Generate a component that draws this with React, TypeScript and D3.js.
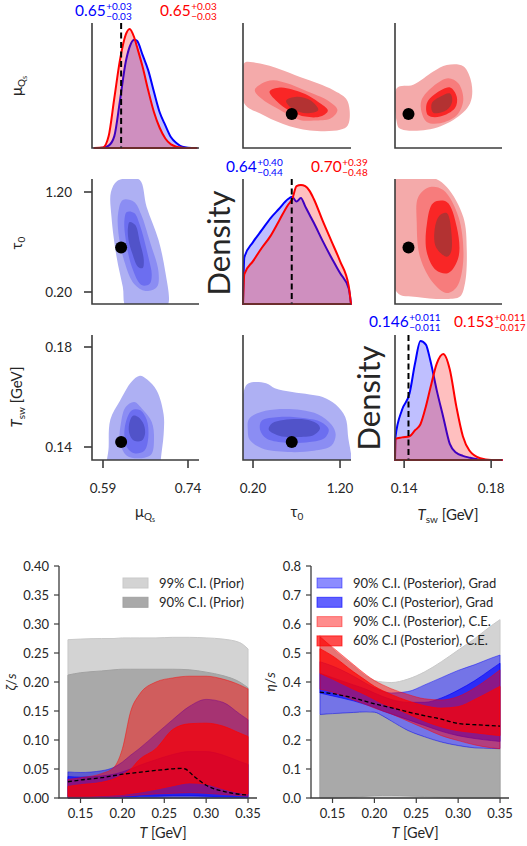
import React, { useLayoutEffect, useRef, useState } from "react";
import * as d3 from "d3";

const FONT = "Lato, 'Open Sans', 'DejaVu Sans', sans-serif";
const INK = "#262626";
const SPINE = "#3c3c3c";

type Pt = [number, number];

// ---------------- truth values ----------------
const muTrue = 0.622;
const tauTrue = 0.645;
const tswTrue = 0.142;

// ---------------- 1D marginals (relative density) ----------------
const muGrid = [0.575, 0.59, 0.6, 0.61, 0.62, 0.63, 0.637, 0.645, 0.65, 0.66, 0.67, 0.68, 0.69, 0.7, 0.71, 0.72, 0.73, 0.74, 0.755];
const muDensGrad = [0, 0.003, 0.02, 0.1, 0.4, 0.72, 0.85, 0.91, 0.9, 0.78, 0.65, 0.47, 0.3, 0.19, 0.09, 0.04, 0.01, 0.002, 0];
const muDensCE = [0, 0.005, 0.1, 0.42, 0.74, 0.95, 1.0, 0.93, 0.85, 0.68, 0.48, 0.3, 0.17, 0.08, 0.03, 0.01, 0.003, 0, 0];

const tauGrid = [0.085, 0.1, 0.2, 0.3, 0.4, 0.5, 0.6, 0.65, 0.7, 0.75, 0.8, 0.85, 0.9, 1.0, 1.1, 1.2, 1.3, 1.326];
const tauDensGrad = [0, 0.39, 0.52, 0.62, 0.72, 0.8, 0.88, 0.9, 0.86, 0.89, 0.82, 0.75, 0.68, 0.53, 0.39, 0.26, 0.13, 0];
const tauDensCE = [0, 0.25, 0.36, 0.47, 0.57, 0.7, 0.83, 0.88, 0.99, 1.0, 0.99, 0.95, 0.88, 0.7, 0.53, 0.36, 0.15, 0];

const tswGrid = [0.1358, 0.136, 0.139, 0.1425, 0.145, 0.1475, 0.15, 0.152, 0.155, 0.158, 0.161, 0.164, 0.167, 0.17, 0.175, 0.18, 0.185];
const tswDensGrad = [0, 0.19, 0.42, 0.56, 0.81, 1.0, 0.97, 0.84, 0.585, 0.36, 0.135, 0.06, 0.035, 0.02, 0.003, 0, 0];
const tswDensCE = [0, 0.177, 0.19, 0.2, 0.25, 0.3, 0.45, 0.6, 0.81, 0.89, 0.76, 0.45, 0.2, 0.08, 0.015, 0, 0];

// ---------------- 2D credible contours (outer -> inner), data units ----------------
const muTauGrad: Pt[][] = [
  [[0.615, 1.31], [0.635, 1.335], [0.655, 1.32], [0.667, 1.05], [0.688, 0.72], [0.7, 0.4], [0.706, 0.1], [0.7, 0.04], [0.632, 0.04], [0.625, 0.25], [0.614, 0.55], [0.605, 0.95], [0.604, 1.2]],
  [[0.625, 1.12], [0.645, 1.1], [0.657, 0.98], [0.673, 0.7], [0.688, 0.4], [0.685, 0.25], [0.665, 0.21], [0.645, 0.28], [0.628, 0.5], [0.617, 0.8], [0.617, 1.0]],
  [[0.632, 1.0], [0.645, 0.99], [0.655, 0.87], [0.67, 0.55], [0.676, 0.37], [0.672, 0.28], [0.658, 0.27], [0.641, 0.45], [0.629, 0.77], [0.628, 0.93]],
  [[0.637, 0.9], [0.647, 0.87], [0.655, 0.7], [0.662, 0.52], [0.66, 0.44], [0.652, 0.45], [0.642, 0.58], [0.635, 0.72], [0.634, 0.84]],
];
const muTswGrad: Pt[][] = [
  [[0.64, 0.166], [0.655, 0.1685], [0.668, 0.167], [0.685, 0.1625], [0.697, 0.153], [0.697, 0.145], [0.692, 0.135], [0.69, 0.128], [0.6, 0.128], [0.6, 0.14], [0.603, 0.151], [0.62, 0.1585]],
  [[0.63, 0.156], [0.645, 0.158], [0.66, 0.155], [0.676, 0.15], [0.68, 0.143], [0.675, 0.137], [0.655, 0.1355], [0.632, 0.1365], [0.62, 0.142], [0.622, 0.15]],
  [[0.64, 0.1545], [0.655, 0.1548], [0.667, 0.151], [0.67, 0.144], [0.663, 0.1385], [0.645, 0.1375], [0.632, 0.14], [0.628, 0.147]],
  [[0.643, 0.1525], [0.652, 0.152], [0.662, 0.149], [0.664, 0.145], [0.658, 0.1425], [0.645, 0.1425], [0.637, 0.145], [0.636, 0.149]],
];
const tauTswGrad: Pt[][] = [
  [[0.1, 0.163], [0.15, 0.1655], [0.35, 0.1655], [0.45, 0.1635], [0.65, 0.162], [0.85, 0.161], [1.0, 0.16], [1.15, 0.157], [1.26, 0.152], [1.29, 0.145], [1.29, 0.128], [0.1, 0.128]],
  [[0.15, 0.151], [0.25, 0.1535], [0.45, 0.155], [0.75, 0.1548], [0.95, 0.153], [1.1, 0.149], [1.15, 0.145], [1.1, 0.1405], [0.9, 0.1385], [0.6, 0.138], [0.3, 0.1395], [0.16, 0.143], [0.14, 0.147]],
  [[0.3, 0.1505], [0.5, 0.152], [0.8, 0.1515], [0.98, 0.15], [1.07, 0.147], [1.02, 0.1435], [0.85, 0.142], [0.55, 0.1418], [0.35, 0.1435], [0.28, 0.147]],
  [[0.42, 0.1495], [0.55, 0.1508], [0.8, 0.151], [0.93, 0.1495], [0.97, 0.1475], [0.9, 0.1448], [0.7, 0.144], [0.5, 0.1445], [0.38, 0.147]],
];
const tauMuCE: Pt[][] = [
  [[0.1, 0.699], [0.2, 0.7], [0.354, 0.696], [0.5, 0.69], [0.74, 0.678], [0.95, 0.668], [1.125, 0.658], [1.27, 0.645], [1.31, 0.628], [1.29, 0.605], [1.2, 0.598], [0.855, 0.597], [0.546, 0.607], [0.277, 0.623], [0.1, 0.638]],
  [[0.22, 0.658], [0.3, 0.668], [0.43, 0.673], [0.6, 0.668], [0.74, 0.661], [0.9, 0.652], [1.05, 0.643], [1.17, 0.628], [1.09, 0.615], [0.9, 0.612], [0.74, 0.613], [0.47, 0.631], [0.3, 0.645]],
  [[0.39, 0.656], [0.51, 0.662], [0.65, 0.659], [0.8, 0.652], [0.95, 0.64], [1.06, 0.627], [0.97, 0.618], [0.8, 0.618], [0.65, 0.625], [0.5, 0.638]],
  [[0.58, 0.642], [0.7, 0.648], [0.855, 0.643], [0.95, 0.628], [0.82, 0.623], [0.66, 0.629]],
];
const tswMuCE: Pt[][] = [
  [[0.1366, 0.661], [0.1442, 0.666], [0.1534, 0.686], [0.1596, 0.696], [0.1672, 0.694], [0.171, 0.668], [0.1703, 0.638], [0.1626, 0.613], [0.1504, 0.598], [0.138, 0.6], [0.1366, 0.61]],
  [[0.148, 0.643], [0.1534, 0.664], [0.1603, 0.676], [0.165, 0.668], [0.1672, 0.643], [0.1642, 0.62], [0.1565, 0.608], [0.1504, 0.61], [0.148, 0.625]],
  [[0.1504, 0.638], [0.1542, 0.652], [0.1611, 0.662], [0.1642, 0.648], [0.1634, 0.631], [0.1565, 0.618], [0.151, 0.62]],
  [[0.1527, 0.638], [0.1565, 0.648], [0.1611, 0.653], [0.1621, 0.641], [0.1596, 0.628], [0.1534, 0.624]],
];
const tswTauCE: Pt[][] = [
  [[0.1366, 1.34], [0.1534, 1.34], [0.1596, 1.25], [0.1672, 0.95], [0.1688, 0.62], [0.168, 0.29], [0.1657, 0.155], [0.1596, 0.13], [0.1458, 0.15], [0.1366, 0.2]],
  [[0.1465, 1.15], [0.1519, 1.25], [0.158, 1.22], [0.165, 0.95], [0.1672, 0.52], [0.1642, 0.25], [0.1596, 0.19], [0.1534, 0.29], [0.1473, 0.55], [0.1458, 0.89]],
  [[0.1504, 0.87], [0.1534, 1.09], [0.1596, 1.1], [0.1642, 0.85], [0.165, 0.55], [0.1603, 0.39], [0.1546, 0.42], [0.1504, 0.6]],
  [[0.1542, 0.85], [0.1565, 0.97], [0.1596, 0.99], [0.1619, 0.75], [0.1614, 0.59], [0.1596, 0.553], [0.1546, 0.65]],
];

// ---------------- titles ----------------
const muTitles = [["0.65", "+0.03", "\u22120.03"], ["0.65", "+0.03", "\u22120.03"]];
const tauTitles = [["0.64", "+0.40", "\u22120.44"], ["0.70", "+0.39", "\u22120.48"]];
const tswTitles = [["0.146", "+0.011", "\u22120.011"], ["0.153", "+0.011", "\u22120.017"]];

// ---------------- bottom: viscosities ----------------
const T_GRID = [0.135, 0.15, 0.175, 0.19, 0.2, 0.21, 0.22, 0.24, 0.26, 0.28, 0.3, 0.32, 0.34, 0.35];
const ZEROS = [0, 0, 0, 0, 0, 0, 0, 0, 0, 0, 0, 0, 0, 0];

const zetaPrior99Hi = [0.273, 0.274, 0.275, 0.275, 0.276, 0.276, 0.276, 0.276, 0.277, 0.277, 0.276, 0.274, 0.268, 0.257];
const zetaPrior90Hi = [0.212, 0.216, 0.219, 0.221, 0.222, 0.222, 0.222, 0.222, 0.222, 0.221, 0.217, 0.211, 0.2, 0.19];
const zetaGrad90Hi = [0.045, 0.044, 0.047, 0.053, 0.062, 0.074, 0.085, 0.11, 0.135, 0.158, 0.17, 0.165, 0.145, 0.135];
const zetaGrad60Lo = [0, 0, 0.001, 0.001, 0.002, 0.002, 0.003, 0.003, 0.004, 0.004, 0.003, 0.002, 0.001, 0.001];
const zetaGrad60Hi = [0.037, 0.036, 0.038, 0.041, 0.045, 0.05, 0.056, 0.066, 0.075, 0.08, 0.08, 0.074, 0.063, 0.058];
const zetaCE90Lo = [0, 0, 0.001, 0.002, 0.003, 0.004, 0.005, 0.007, 0.008, 0.009, 0.008, 0.006, 0.004, 0.003];
const zetaCE90Hi = [0.032, 0.035, 0.042, 0.053, 0.085, 0.15, 0.178, 0.2, 0.207, 0.21, 0.21, 0.205, 0.195, 0.188];
const zetaCE60Lo = [0.003, 0.003, 0.004, 0.005, 0.006, 0.008, 0.01, 0.015, 0.021, 0.026, 0.024, 0.016, 0.009, 0.007];
const zetaCE60Hi = [0.02, 0.023, 0.027, 0.033, 0.04, 0.05, 0.066, 0.085, 0.118, 0.128, 0.129, 0.124, 0.112, 0.106];

const etaPrior99Hi = [0.56, 0.515, 0.455, 0.42, 0.405, 0.4, 0.398, 0.41, 0.435, 0.47, 0.51, 0.55, 0.595, 0.615];
const etaPrior90Lo = [0, 0, 0.003, 0.006, 0.008, 0.009, 0.009, 0.007, 0.005, 0.002, 0, 0, 0, 0];
const etaPrior90Hi = [0.287, 0.29, 0.294, 0.296, 0.295, 0.282, 0.265, 0.232, 0.21, 0.192, 0.18, 0.172, 0.17, 0.169];
const etaGrad90Lo = [0.288, 0.291, 0.295, 0.297, 0.296, 0.283, 0.266, 0.233, 0.211, 0.193, 0.181, 0.173, 0.171, 0.17];
const etaGrad90Hi = [0.47, 0.455, 0.42, 0.395, 0.38, 0.368, 0.362, 0.367, 0.39, 0.415, 0.44, 0.46, 0.483, 0.493];
const etaGrad60Lo = [0.362, 0.352, 0.335, 0.322, 0.312, 0.3, 0.29, 0.27, 0.25, 0.23, 0.215, 0.205, 0.198, 0.195];
const etaGrad60Hi = [0.43, 0.415, 0.39, 0.375, 0.362, 0.35, 0.34, 0.33, 0.33, 0.345, 0.372, 0.405, 0.445, 0.465];
const etaCE90Lo = [0.375, 0.365, 0.338, 0.322, 0.31, 0.3, 0.29, 0.265, 0.24, 0.215, 0.198, 0.183, 0.173, 0.17];
const etaCE90Hi = [0.555, 0.52, 0.46, 0.425, 0.405, 0.39, 0.377, 0.357, 0.342, 0.338, 0.35, 0.38, 0.42, 0.442];
const etaCE60Lo = [0.43, 0.41, 0.375, 0.355, 0.34, 0.325, 0.315, 0.29, 0.265, 0.245, 0.232, 0.225, 0.218, 0.215];
const etaCE60Hi = [0.515, 0.49, 0.435, 0.405, 0.385, 0.37, 0.357, 0.335, 0.318, 0.31, 0.315, 0.34, 0.37, 0.385];

const truthT = [0.135, 0.15, 0.175, 0.2, 0.225, 0.25, 0.27, 0.275, 0.285, 0.3, 0.325, 0.35];
const truthZeta = [0.028, 0.031, 0.035, 0.041, 0.045, 0.049, 0.051, 0.05, 0.038, 0.022, 0.01, 0.005];
const truthEta = [0.365, 0.36, 0.345, 0.325, 0.308, 0.29, 0.278, 0.275, 0.268, 0.257, 0.252, 0.248];

const zetaTicks = [0, 0.05, 0.1, 0.15, 0.2, 0.25, 0.3, 0.35, 0.4];
const etaTicks = [0, 0.1, 0.2, 0.3, 0.4, 0.5, 0.6, 0.7, 0.8];
const tTicks = [0.15, 0.2, 0.25, 0.3, 0.35];

const priorLegend = ["99% C.I. (Prior)", "90% C.I. (Prior)"];
const postLegend = [
  "90% C.I. (Posterior), Grad",
  "60% C.I (Posterior), Grad",
  "90% C.I. (Posterior), C.E.",
  "60% C.I (Posterior), C.E.",
];

// ---------------- styles ----------------
const BLUE_LEVELS = ["#aeb0f3", "#8b8df3", "#6c6ef0", "#5153c9"];
const RED_LEVELS = ["#f4aaaa", "#f77c7c", "#f92626", "#b33232"];
const C_P99 = "#d3d3d3";
const C_P90 = "#a9a9a9";
const C_G90 = "rgba(0,0,255,0.45)";
const C_G60 = "rgba(0,0,255,0.62)";
const C_R90 = "rgba(255,0,0,0.45)";
const C_R60 = "rgba(255,0,0,0.7)";

// ---------------- layout ----------------
const COLS: [number, number][] = [[92, 199], [243, 351], [395, 502]];
const ROWS: [number, number][] = [[148, 23], [304, 179], [460, 335]];
const XDOM: [number, number][] = [[0.5706, 0.7594], [0.085, 1.326], [0.1358, 0.185]];
const YDOM: [number, number][] = [[0.5706, 0.7594], [0.08, 1.33], [0.1348, 0.1848]];
const xs = (c: number) => d3.scaleLinear().domain(XDOM[c]).range(COLS[c]);
const ys = (r: number) => d3.scaleLinear().domain(YDOM[r]).range(ROWS[r]);

// value with stacked super/subscript, as one text element
function ValTitle({ x, y, parts, color }: { x: number; y: number; parts: string[]; color: string }) {
  const supRef = useRef<SVGTSpanElement>(null);
  const [sw, setSw] = useState(parts[1].length * 5.6);
  useLayoutEffect(() => {
    if (supRef.current) setSw(supRef.current.getComputedTextLength());
  }, [parts[1]]);
  return (
    <text x={x} y={y} fill={color} fontFamily={FONT} fontSize={15.5}>
      {parts[0]}
      <tspan ref={supRef} dx={0.5} dy={-6.5} fontSize={10}>{parts[1]}</tspan>
      <tspan dx={-sw} dy={10.3} fontSize={10}>{parts[2]}</tspan>
    </text>
  );
}

function Spines({ r, c }: { r: number; c: number }) {
  const [x0, x1] = COLS[c];
  const [yb, yt] = ROWS[r];
  return <path d={`M${x0},${yt}V${yb}H${x1}`} fill="none" stroke={SPINE} strokeWidth={1.6} />;
}

function Diag({ k, grid, blue, red, truth, parts }: { k: number; grid: number[]; blue: number[]; red: number[]; truth: number; parts: string[][] }) {
  const x = xs(k);
  const [yb, yt] = ROWS[k];
  const y = d3.scaleLinear().domain([0, 1.05]).range([yb, yt]);
  const area = d3
    .area<number>()
    .x((_, i) => x(grid[i]))
    .y0(yb)
    .y1((d) => y(d))
    .curve(d3.curveMonotoneX);
  const pos = [
    [[75, 16], [160, 16]],
    [[226, 172], [311, 172]],
    [[369, 327], [454, 327]],
  ][k];
  return (
    <g>
      <path d={area(blue) || ""} fill="rgba(0,0,255,0.25)" stroke="#0000ff" strokeWidth={2} strokeLinejoin="round" />
      <path d={area(red) || ""} fill="rgba(255,0,0,0.25)" stroke="#ff0000" strokeWidth={2} strokeLinejoin="round" />
      <line x1={x(truth)} x2={x(truth)} y1={yt} y2={yb} stroke="#000" strokeWidth={2} strokeDasharray="6,3.5" />
      <Spines r={k} c={k} />
      <ValTitle x={pos[0][0]} y={pos[0][1]} parts={parts[0]} color="#0000ff" />
      <ValTitle x={pos[1][0]} y={pos[1][1]} parts={parts[1]} color="#ff0000" />
    </g>
  );
}

function Contours({ r, c, levels, colors, truth }: { r: number; c: number; levels: Pt[][]; colors: string[]; truth: Pt }) {
  const x = xs(c);
  const y = ys(r);
  const line = d3
    .line<Pt>()
    .x((p) => x(p[0]))
    .y((p) => y(p[1]))
    .curve(d3.curveCatmullRomClosed.alpha(0.5));
  const id = `clip-${r}-${c}`;
  return (
    <g>
      <defs>
        <clipPath id={id}>
          <rect x={COLS[c][0]} y={ROWS[r][1]} width={COLS[c][1] - COLS[c][0]} height={ROWS[r][0] - ROWS[r][1]} />
        </clipPath>
      </defs>
      <g clipPath={`url(#${id})`}>
        {levels.map((poly, i) => (
          <path key={i} d={line(poly) || ""} fill={colors[i]} />
        ))}
      </g>
      <circle cx={x(truth[0])} cy={y(truth[1])} r={6} fill="#000" />
      <Spines r={r} c={c} />
    </g>
  );
}

function LeftTicks({ r, ticks, fmt }: { r: number; ticks: number[]; fmt: (v: number) => string }) {
  const y = ys(r);
  const x0 = COLS[0][0];
  return (
    <g>
      {ticks.map((t) => (
        <g key={t}>
          <line x1={x0 - 8} x2={x0} y1={y(t)} y2={y(t)} stroke={SPINE} strokeWidth={1.6} />
          <text x={x0 - 20} y={y(t)} dy="0.35em" textAnchor="end" fontSize={13.5} fill={INK} fontFamily={FONT}>{fmt(t)}</text>
        </g>
      ))}
    </g>
  );
}

function BottomTicks({ c, ticks, fmt }: { c: number; ticks: number[]; fmt: (v: number) => string }) {
  const x = xs(c);
  const yb = ROWS[2][0];
  return (
    <g>
      {ticks.map((t) => (
        <g key={t}>
          <line x1={x(t)} x2={x(t)} y1={yb} y2={yb + 8} stroke={SPINE} strokeWidth={1.6} />
          <text x={x(t)} y={yb + 33} textAnchor="middle" fontSize={13.5} fill={INK} fontFamily={FONT}>{fmt(t)}</text>
        </g>
      ))}
    </g>
  );
}

type Band = { lo: number[]; hi: number[]; color: string; edge: string };

function BandPlot({ x0, x1, ymax, yTicks, bands, truth, ylabel, ylabelX, yfmt }: {
  x0: number; x1: number; ymax: number; yTicks: number[]; bands: Band[]; truth: number[]; ylabel: React.ReactNode; ylabelX: number; yfmt: (v: number) => string;
}) {
  const yb = 798, yt = 566;
  const x = d3.scaleLinear().domain([0.1243, 0.3607]).range([x0, x1]);
  const y = d3.scaleLinear().domain([0, ymax]).range([yb, yt]);
  const area = (lo: number[], hi: number[]) =>
    d3
      .area<number>()
      .x((_, i) => x(T_GRID[i]))
      .y0((_, i) => y(lo[i]))
      .y1((d) => y(d))
      .curve(d3.curveMonotoneX)(hi) || "";
  const truthLine =
    d3
      .line<number>()
      .x((_, i) => x(truthT[i]))
      .y((d) => y(d))
      .curve(d3.curveMonotoneX)(truth) || "";
  return (
    <g fontFamily={FONT}>
      {bands.map((b, i) => (
        <path key={i} d={area(b.lo, b.hi)} fill={b.color} stroke={b.edge} strokeWidth={1} />
      ))}
      <path d={truthLine} fill="none" stroke="#000" strokeWidth={1.3} strokeDasharray="4,2.5" />
      <path d={`M${x0},${yt}V${yb}H${x1}`} fill="none" stroke={SPINE} strokeWidth={1.3} />
      {yTicks.map((t) => (
        <g key={t}>
          <line x1={x0 - 5} x2={x0} y1={y(t)} y2={y(t)} stroke={SPINE} strokeWidth={1.2} />
          <text x={x0 - 10} y={y(t)} dy="0.35em" textAnchor="end" fontSize={13} fill={INK}>{yfmt(t)}</text>
        </g>
      ))}
      {tTicks.map((t) => (
        <g key={t}>
          <line x1={x(t)} x2={x(t)} y1={yb} y2={yb + 5} stroke={SPINE} strokeWidth={1.2} />
          <text x={x(t)} y={yb + 20} textAnchor="middle" fontSize={13} fill={INK}>{t.toFixed(2)}</text>
        </g>
      ))}
      <text x={(x0 + x1) / 2 + 5} y={838} textAnchor="middle" fontSize={14.5} fill={INK}>
        <tspan fontStyle="italic">T</tspan> [GeV]
      </text>
      <text x={ylabelX} y={682} transform={`rotate(-90,${ylabelX},682)`} textAnchor="middle" fontSize={14} fill={INK}>
        {ylabel}
      </text>
    </g>
  );
}

function Legend({ x, y0, items, colors, edges }: { x: number; y0: number; items: string[]; colors: string[]; edges: string[] }) {
  return (
    <g fontFamily={FONT}>
      {items.map((t, i) => (
        <g key={t}>
          <rect x={x} y={y0 + i * 19.3 - 5} width={25} height={10} fill={colors[i]} stroke={edges[i]} strokeWidth={1} />
          <text x={x + 36} y={y0 + i * 19.3} dy="0.35em" fontSize={13} fill={INK}>{t}</text>
        </g>
      ))}
    </g>
  );
}

export default function App() {
  const f2 = (v: number) => v.toFixed(2);
  const zetaBands: Band[] = [
    { lo: ZEROS, hi: zetaPrior99Hi, color: C_P99, edge: "#c9c9c9" },
    { lo: ZEROS, hi: zetaPrior90Hi, color: C_P90, edge: "#a2a2a2" },
    { lo: ZEROS, hi: zetaGrad90Hi, color: C_G90, edge: C_G90 },
    { lo: zetaGrad60Lo, hi: zetaGrad60Hi, color: C_G60, edge: C_G60 },
    { lo: zetaCE90Lo, hi: zetaCE90Hi, color: C_R90, edge: C_R90 },
    { lo: zetaCE60Lo, hi: zetaCE60Hi, color: C_R60, edge: C_R60 },
  ];
  const etaBands: Band[] = [
    { lo: ZEROS, hi: etaPrior99Hi, color: C_P99, edge: "#c9c9c9" },
    { lo: etaPrior90Lo, hi: etaPrior90Hi, color: C_P90, edge: "#a2a2a2" },
    { lo: etaGrad90Lo, hi: etaGrad90Hi, color: C_G90, edge: C_G90 },
    { lo: etaGrad60Lo, hi: etaGrad60Hi, color: C_G60, edge: C_G60 },
    { lo: etaCE90Lo, hi: etaCE90Hi, color: C_R90, edge: C_R90 },
    { lo: etaCE60Lo, hi: etaCE60Hi, color: C_R60, edge: C_R60 },
  ];
  const muLabel = (
    <>
      μ<tspan fontSize={10} dy={3}>Q</tspan>
      <tspan fontSize={7} dy={2}>s</tspan>
    </>
  );
  const tauLabel = (
    <>
      τ<tspan fontSize={10} dy={3}>0</tspan>
    </>
  );
  const tswLabel = (
    <>
      <tspan fontStyle="italic">T</tspan>
      <tspan fontSize={10} dy={3}>sw</tspan>
      <tspan dy={-3}> [GeV]</tspan>
    </>
  );
  return (
    <svg width={527} height={846} style={{ position: "absolute", left: 0, top: 0, background: "#fff" }} fontFamily={FONT}>
      <rect width={527} height={846} fill="#fff" />
      <Diag k={0} grid={muGrid} blue={muDensGrad} red={muDensCE} truth={muTrue} parts={muTitles} />
      <Diag k={1} grid={tauGrid} blue={tauDensGrad} red={tauDensCE} truth={tauTrue} parts={tauTitles} />
      <Diag k={2} grid={tswGrid} blue={tswDensGrad} red={tswDensCE} truth={tswTrue} parts={tswTitles} />
      <Contours r={1} c={0} levels={muTauGrad} colors={BLUE_LEVELS} truth={[muTrue, tauTrue]} />
      <Contours r={2} c={0} levels={muTswGrad} colors={BLUE_LEVELS} truth={[muTrue, tswTrue]} />
      <Contours r={2} c={1} levels={tauTswGrad} colors={BLUE_LEVELS} truth={[tauTrue, tswTrue]} />
      <Contours r={0} c={1} levels={tauMuCE} colors={RED_LEVELS} truth={[tauTrue, muTrue]} />
      <Contours r={0} c={2} levels={tswMuCE} colors={RED_LEVELS} truth={[tswTrue, muTrue]} />
      <Contours r={1} c={2} levels={tswTauCE} colors={RED_LEVELS} truth={[tswTrue, tauTrue]} />
      <LeftTicks r={1} ticks={[0.2, 1.2]} fmt={f2} />
      <LeftTicks r={2} ticks={[0.14, 0.18]} fmt={f2} />
      <BottomTicks c={0} ticks={[0.59, 0.74]} fmt={f2} />
      <BottomTicks c={1} ticks={[0.2, 1.2]} fmt={f2} />
      <BottomTicks c={2} ticks={[0.14, 0.18]} fmt={f2} />
      <g fill={INK} fontSize={15}>
        <text x={22} y={86} transform="rotate(-90,22,86)" textAnchor="middle">{muLabel}</text>
        <text x={22} y={243} transform="rotate(-90,22,243)" textAnchor="middle">{tauLabel}</text>
        <text x={22} y={397} transform="rotate(-90,22,397)" textAnchor="middle">{tswLabel}</text>
        <text x={145} y={517} textAnchor="middle">{muLabel}</text>
        <text x={297} y={517} textAnchor="middle">{tauLabel}</text>
        <text x={448} y={520} textAnchor="middle">{tswLabel}</text>
        <text x={219} y={243} transform="rotate(-90,219,243)" textAnchor="middle" dy="0.35em" fontSize={31}>Density</text>
        <text x={369} y={398} transform="rotate(-90,369,398)" textAnchor="middle" dy="0.35em" fontSize={31}>Density</text>
      </g>
      <BandPlot x0={59} x1={257} ymax={0.4} yTicks={zetaTicks} bands={zetaBands} truth={truthZeta} ylabelX={16} yfmt={f2}
        ylabel={<><tspan fontStyle="italic">ζ</tspan>/<tspan fontStyle="italic">s</tspan></>} />
      <BandPlot x0={311} x1={509} ymax={0.8} yTicks={etaTicks} bands={etaBands} truth={truthEta} ylabelX={275} yfmt={(v) => v.toFixed(1)}
        ylabel={<><tspan fontStyle="italic">η</tspan>/<tspan fontStyle="italic">s</tspan></>} />
      <Legend x={123} y0={583} items={priorLegend} colors={[C_P99, C_P90]} edges={["#c9c9c9", "#a2a2a2"]} />
      <Legend x={317} y0={583} items={postLegend} colors={[C_G90, C_G60, C_R90, C_R60]} edges={[C_G90, C_G60, C_R90, C_R60]} />
    </svg>
  );
}
